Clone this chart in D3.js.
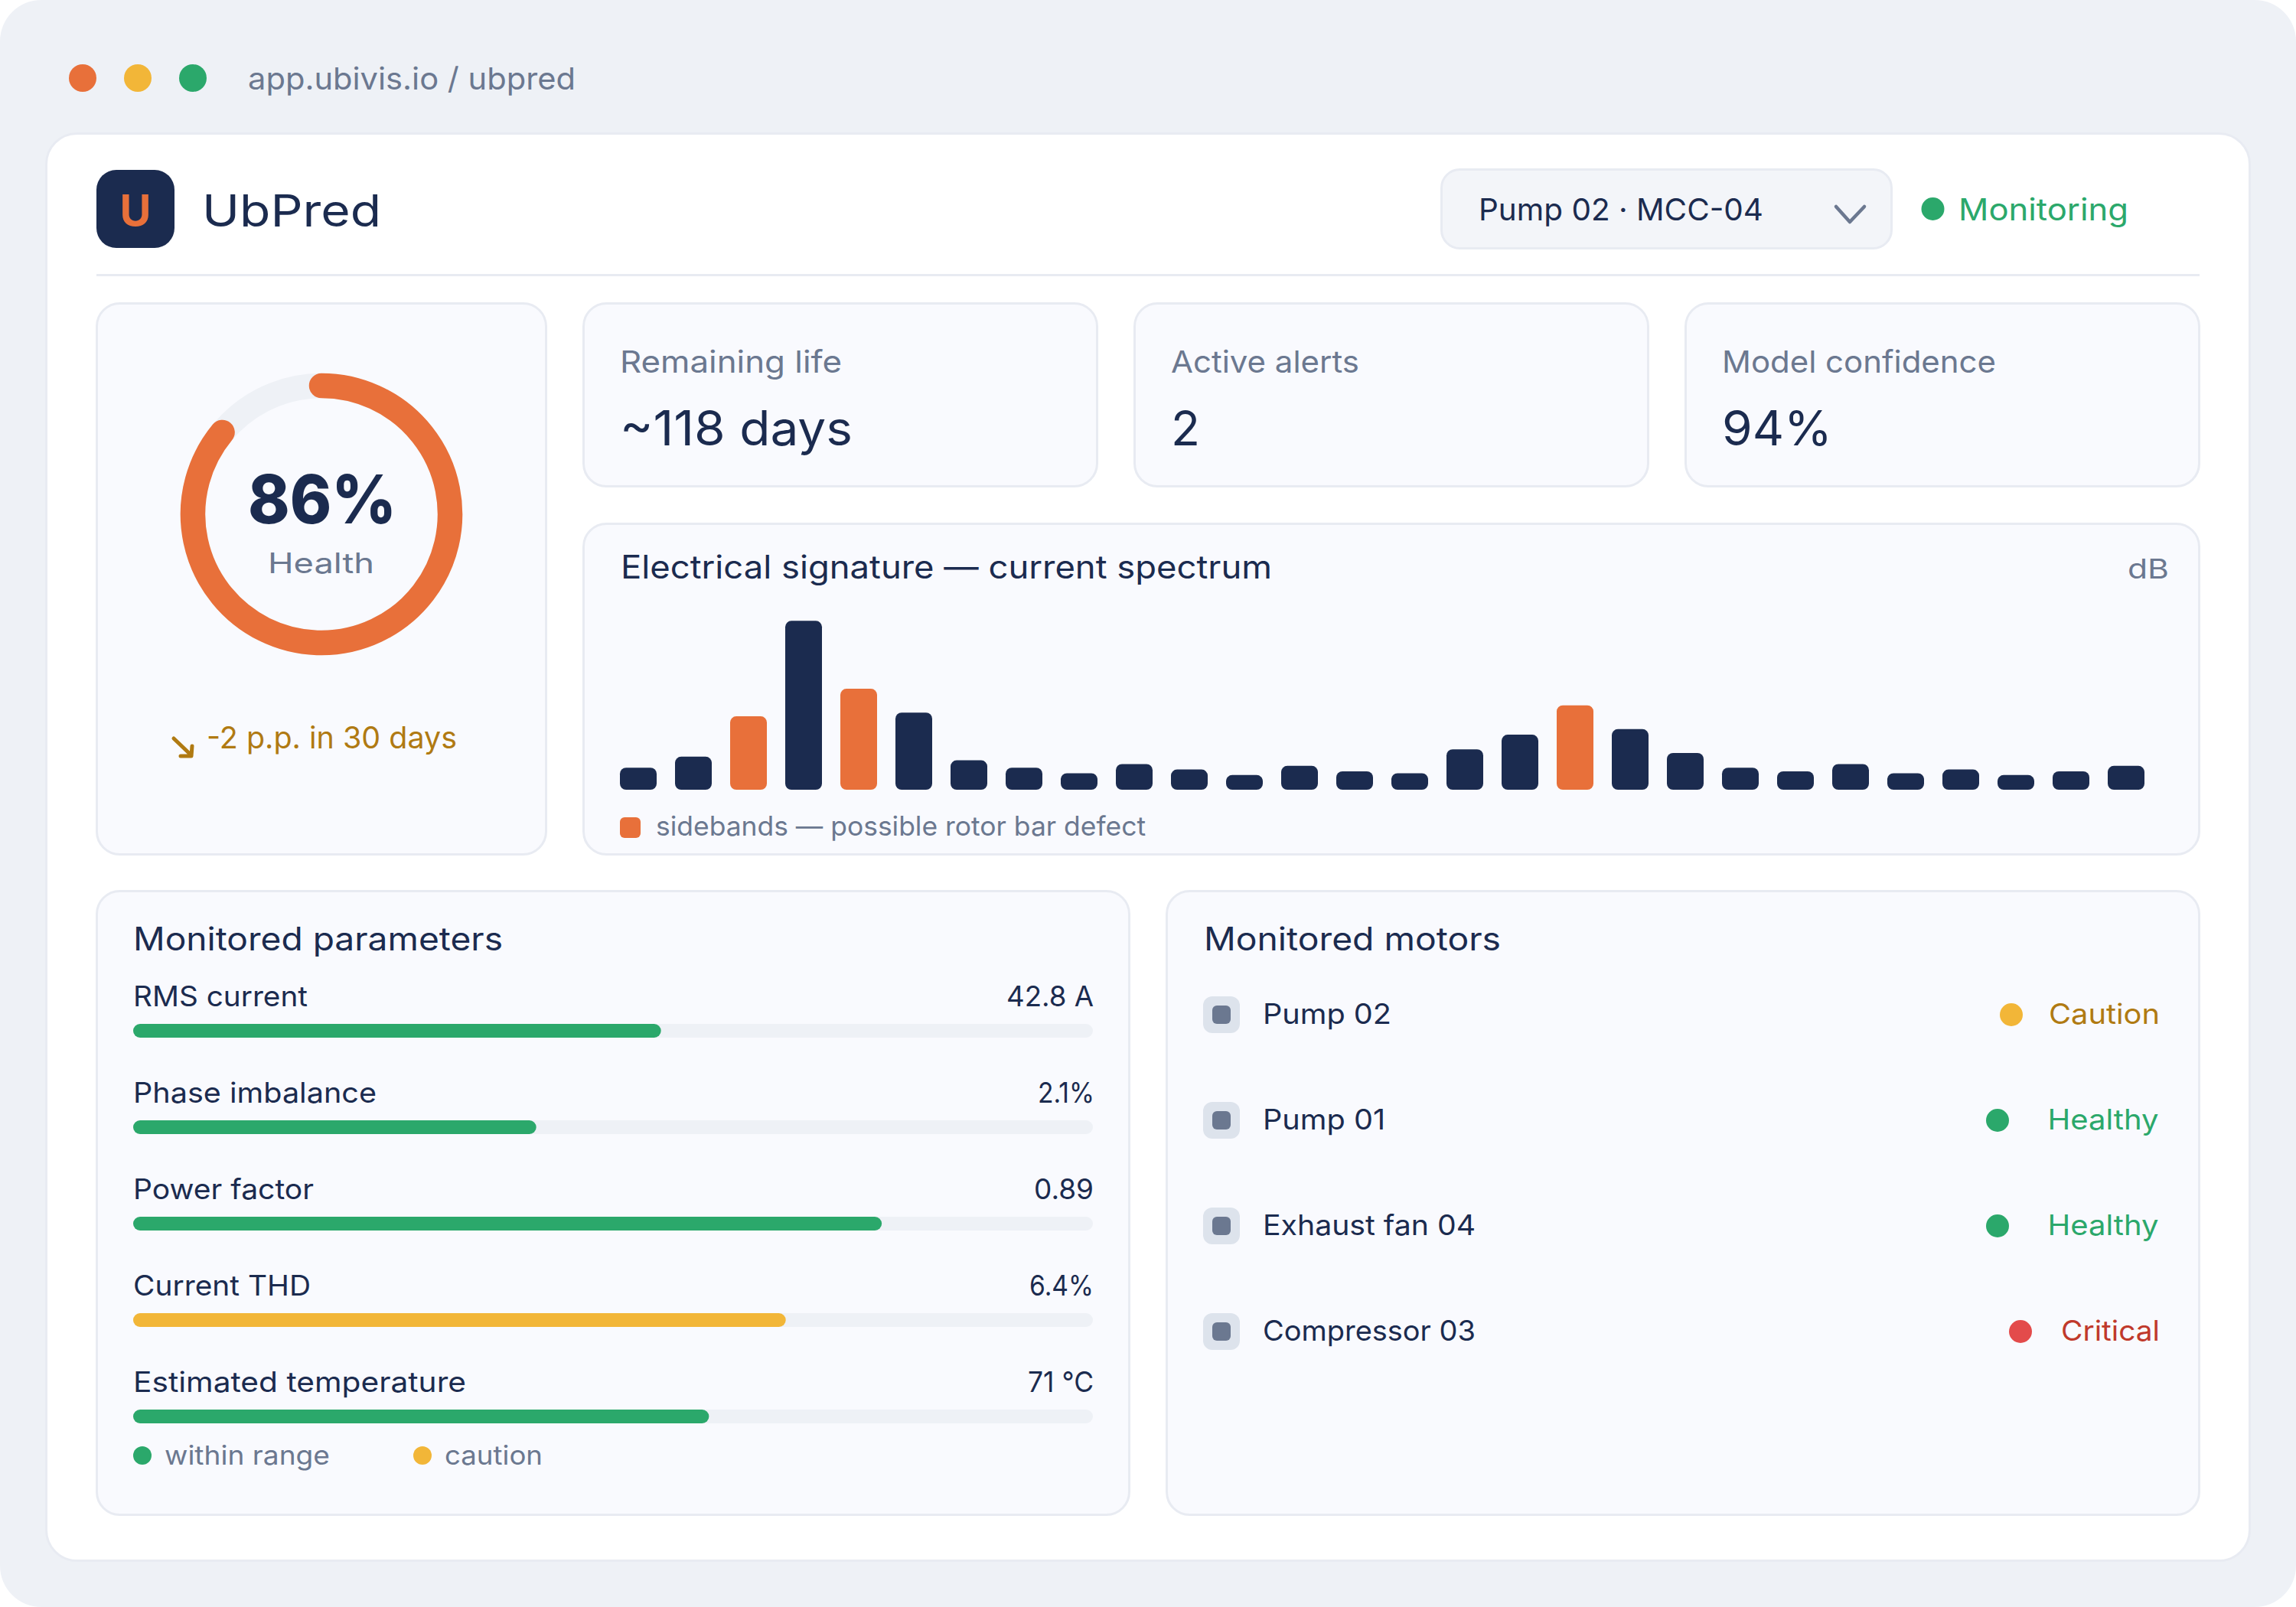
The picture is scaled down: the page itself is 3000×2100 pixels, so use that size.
<!DOCTYPE html>
<html><head><meta charset="utf-8">
<script src="https://cdn.jsdelivr.net/npm/d3@7"></script>
<style>html,body{margin:0;padding:0;background:#fff}svg{display:block}text{font-family:Inter,"Noto Sans",sans-serif}</style>
</head><body><div id="chart"></div>
<script>
// ---- data ----
const appUrl = "app.ubivis.io / ubpred";
const appName = "UbPred";
const selectedMotor = "Pump 02 · MCC-04";
const healthPercent = 86;
const kpiLabels = ["Remaining life", "Active alerts", "Model confidence"];
const kpiValues = ["~118 days", "2", "94%"];
const spectrumDb = [12,18,40,92,55,42,16,12,9,14,11,8,13,10,9,22,30,46,33,20,12,10,14,9,11,8,10,13];
const sidebandBins = [2,4,17];
const paramNames = ["RMS current","Phase imbalance","Power factor","Current THD","Estimated temperature"];
const paramReadouts = ["42.8 A","2.1%","0.89","6.4%","71 °C"];
const paramFill = [0.55,0.42,0.78,0.68,0.60];
const paramState = ["ok","ok","ok","warn","ok"];
const motorNames = ["Pump 02","Pump 01","Exhaust fan 04","Compressor 03"];
const motorStatus = ["Caution","Healthy","Healthy","Critical"];

// ---- style ----
const C = {bg:"#eef1f6",card:"#f9fafe",line:"#e8ebf2",navy:"#1b2b4f",orange:"#e8703a",yellow:"#f2b638",green:"#2ba86b",red:"#e34b4b",grey:"#6b7890",amber:"#b07a12",crit:"#c0392b",chip:"#dde3ec",sel:"#f3f5f9"};
const W = 400; // body text weight
const svg = d3.select("#chart").append("svg").attr("width",3000).attr("height",2100).attr("viewBox","0 0 3000 2100");

function box(x0,y0,x1,y1,r,fill,stroke){
  return svg.append("rect").attr("x",x0).attr("y",y0).attr("width",x1-x0).attr("height",y1-y0).attr("rx",r)
    .attr("fill",fill).attr("stroke",stroke||"none").attr("stroke-width",stroke?3:0);
}
// panel given by the outer edge of its 3px stroke
function panel(x0,y0,x1,y1,r,fill){ return box(x0+1.5,y0+1.5,x1-1.5,y1-1.5,r,fill,C.line); }
// t: string, x,y baseline, size, colour, weight, width = target run width, anchor
function label(t,x,y,size,fill,weight,width,anchor){
  const e = svg.append("text").attr("x",x).attr("y",y).attr("font-size",size).attr("fill",fill)
    .attr("font-weight",weight||400).attr("text-anchor",anchor||"start").text(t);
  if(width) e.attr("textLength",width).attr("lengthAdjust","spacingAndGlyphs");
  return e;
}
function dot(cx,cy,r,fill){ svg.append("circle").attr("cx",cx).attr("cy",cy).attr("r",r).attr("fill",fill); }

// frame
box(0,0,3000,2100,54,C.bg);
[[108,C.orange],[180,C.yellow],[252,C.green]].forEach(d=>dot(d[0],102,18,d[1]));
label(appUrl,324,117,40,C.grey,400,428);
panel(59,173,2941,2041,40,"#ffffff");

// header
box(126,222,228,324,26,C.navy);
label("U",177,295,56,C.orange,700,null,"middle");
label(appName,264,296,58,C.navy,W,234);
panel(1882,220,2473,326,24,C.sel);
label(selectedMotor,1932,288,40,C.navy,W,372);
svg.append("path").attr("d",d3.line()([[2399,270],[2417,290],[2436,270]])).attr("fill","none").attr("stroke",C.grey).attr("stroke-width",4.5).attr("stroke-linecap","round").attr("stroke-linejoin","round");
dot(2525.5,273,15,C.green);
label("Monitoring",2559,288,40,C.green,W,222);
svg.append("rect").attr("x",126).attr("y",358).attr("width",2748).attr("height",3).attr("fill",C.line);

// health card
panel(125,395,715,1118,30,C.card);
const gaugeAngle = d3.scaleLinear().domain([0,100]).range([0,2*Math.PI]);
const arcG = svg.append("g").attr("transform","translate(420,672)");
const ringPath = pct => { const p=d3.path(); p.arc(0,0,168,-Math.PI/2,-Math.PI/2+gaugeAngle(pct)); return p.toString(); };
const gaugeStroke = g => g.attr("fill","none").attr("stroke-width",32.5);
arcG.append("circle").attr("r",168).call(gaugeStroke).attr("stroke",C.bg);
arcG.append("path").attr("d",ringPath(healthPercent)).call(gaugeStroke).attr("stroke",C.orange).attr("stroke-linecap","round");
label(healthPercent+"%",324,684,88,C.navy,800,194);
label("Health",350,749,37,C.grey,400,139);
svg.append("path").attr("d","M227 965L250 987M251 975L250 988L236 988").attr("fill","none").attr("stroke",C.amber).attr("stroke-width",5).attr("stroke-linecap","round").attr("stroke-linejoin","round");
label("-2 p.p. in 30 days",270,978,39,C.amber,W,327);

// KPI cards
const kpiX = d3.scaleBand().domain(d3.range(kpiLabels.length)).range([761,2875]).paddingInner(46/(674+46));
const kpiLabelW = [290,246,358], kpiValueW = [304,38,144];
kpiLabels.forEach((k,i)=>{
  const x=kpiX(i);
  panel(x,395,x+kpiX.bandwidth(),637,30,C.card);
  label(k,x+49,487,40,C.grey,400,kpiLabelW[i]);
  label(kpiValues[i],x+49,582,63,C.navy,W,kpiValueW[i]);
});

// spectrum
panel(761,683,2875,1118,30,C.card);
label("Electrical signature — current spectrum",811,756,42,C.navy,W,851);
label("dB",2834,756,36,C.grey,400,54,"end");
const sx = d3.scaleBand().domain(d3.range(spectrumDb.length)).range([810,2802]).paddingInner(1/3).paddingOuter(0);
const sy = d3.scaleLinear().domain([0,92]).range([1032,811.3]);
svg.append("g").selectAll("rect").data(spectrumDb).join("rect")
  .attr("x",(d,i)=>sx(i)).attr("width",sx.bandwidth()).attr("y",d=>sy(d)).attr("height",d=>sy(0)-sy(d)).attr("rx",8)
  .attr("fill",(d,i)=>sidebandBins.includes(i)?C.orange:C.navy);
box(810,1068,837,1095,6,C.orange);
label("sidebands — possible rotor bar defect",857,1092,35,C.grey,400,640);

// parameters
panel(125,1163,1477,1981,30,C.card);
label("Monitored parameters",174,1242,42,C.navy,W,483);
const px = d3.scaleLinear().domain([0,1]).range([174,1428]);
const py = d3.scaleBand().domain(d3.range(paramNames.length)).range([1315,1945]);
const nameW=[228,318,236,232,435], valW=[114,74,78,84,86];
const valR=[1429,1430,1429,1429,1429];
paramNames.forEach((n,i)=>{
  const b=py(i);
  label(n,174,b,37,C.navy,W,nameW[i]);
  label(paramReadouts[i],valR[i],b,37,C.navy,W,valW[i],"end");
  svg.append("rect").attr("x",px(0)).attr("y",b+23).attr("width",px(1)-px(0)).attr("height",18).attr("rx",9).attr("fill",C.bg);
  svg.append("rect").attr("x",px(0)).attr("y",b+23).attr("width",px(paramFill[i])-px(0)).attr("height",18).attr("rx",9).attr("fill",paramState[i]==="warn"?C.yellow:C.green);
});
dot(186,1902,12,C.green); label("within range",215,1914,34,C.grey,400,216);
dot(552,1902,12,C.yellow); label("caution",581,1914,34,C.grey,400,128);

// motors
panel(1523,1163,2875,1981,30,C.card);
label("Monitored motors",1573,1242,42,C.navy,W,388);
const my = d3.scaleBand().domain(d3.range(motorNames.length)).range([1257,1809]);
const statusC = {Caution:[C.yellow,C.amber,2628,145,2822],Healthy:[C.green,C.green,2610,145,2820.5],Critical:[C.red,C.crit,2640,129,2822]};
const motorW=[168,160,278,278];
motorNames.forEach((n,i)=>{
  const c=my(i)+my.bandwidth()/2, s=statusC[motorStatus[i]];
  box(1572,c-24,1620,c+24,12,C.chip);
  box(1584,c-12,1608,c+12,6,C.grey);
  label(n,1650,c+12,37,C.navy,W,motorW[i]);
  dot(s[2],c,15,s[0]);
  label(motorStatus[i],s[4],c+12,37,s[1],W,s[3],"end");
});
</script></body></html>
